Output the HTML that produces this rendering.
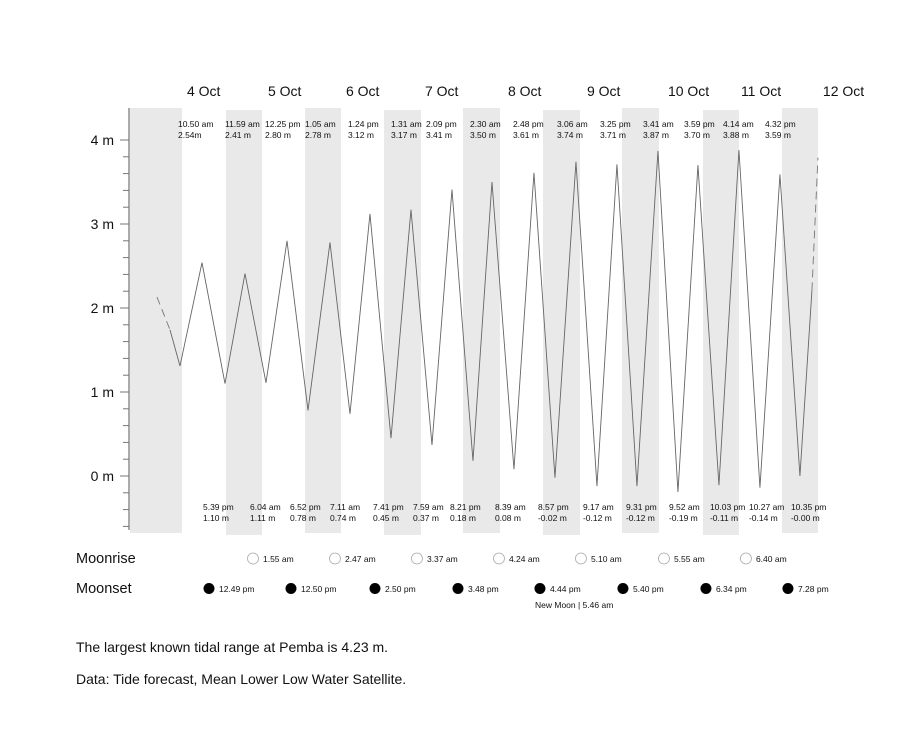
<!DOCTYPE html>
<html><head><meta charset="utf-8">
<style>
body{margin:0;background:#fff;font-family:"Liberation Sans",sans-serif;}
#wrap{position:relative;width:910px;height:737px;overflow:hidden;}
svg text{font-family:"Liberation Sans",sans-serif;fill:#111;}
</style></head>
<body>
<div id="wrap">
<svg id="chart" width="910" height="737"></svg>
</div>
<script>
// ---- data ----
const dayLabels = ["4 Oct","5 Oct","6 Oct","7 Oct","8 Oct","9 Oct","10 Oct","11 Oct","12 Oct"];
const dayLabelHours = [6.3,30.6,54.0,77.7,102.6,126.3,150.6,172.5,197.1];
const yTicks = [0,1,2,3,4];
const yTickLabels = ["0 m","1 m","2 m","3 m","4 m"];
// night bands [start hour, end hour]
const nightStart = [-10.8,18.0,41.7,65.4,89.1,113.1,136.8,161.1,184.8];
const nightEnd = [4.8,28.8,52.5,76.5,100.2,124.2,147.9,171.9,195.6];
// tide series (hours since 4 Oct 00:00, metres)
const tideHours = [1.2,4.2,10.8,17.7,23.7,30.0,36.3,42.6,49.2,55.2,61.2,67.5,73.5,79.8,85.8,92.1,97.8,104.4,110.4,116.7,123.0,129.3,135.3,141.3,147.6,153.6,159.6,165.9,171.9,178.2,184.2,190.2,193.8];
const tideHeights = [1.74,1.31,2.54,1.10,2.41,1.11,2.80,0.78,2.78,0.74,3.12,0.45,3.17,0.37,3.41,0.18,3.50,0.08,3.61,-0.02,3.74,-0.12,3.71,-0.12,3.87,-0.19,3.70,-0.11,3.88,-0.14,3.59,0.00,2.21];
const dashStartHours = [-2.7,1.2];
const dashStartHeights = [2.13,1.74];
const dashEndHours = [193.8,195.6];
const dashEndHeights = [2.21,3.79];
const highTimes = ["10.50 am","11.59 am","12.25 pm","1.05 am","1.24 pm","1.31 am","2.09 pm","2.30 am","2.48 pm","3.06 am","3.25 pm","3.41 am","3.59 pm","4.14 am","4.32 pm"];
const highValues = ["2.54m","2.41 m","2.80 m","2.78 m","3.12 m","3.17 m","3.41 m","3.50 m","3.61 m","3.74 m","3.71 m","3.87 m","3.70 m","3.88 m","3.59 m"];
const highLabelHours = [3.6,17.7,29.7,41.7,54.6,67.5,78.0,91.2,104.1,117.3,130.2,143.1,155.4,167.1,179.7];
const lowTimes = ["5.39 pm","6.04 am","6.52 pm","7.11 am","7.41 pm","7.59 am","8.21 pm","8.39 am","8.57 pm","9.17 am","9.31 pm","9.52 am","10.03 pm","10.27 am","10.35 pm"];
const lowValues = ["1.10 m","1.11 m","0.78 m","0.74 m","0.45 m","0.37 m","0.18 m","0.08 m","-0.02 m","-0.12 m","-0.12 m","-0.19 m","-0.11 m","-0.14 m","-0.00 m"];
const lowLabelHours = [11.1,25.2,37.2,49.2,62.1,74.1,85.2,98.7,111.6,125.1,138.0,150.9,163.2,174.9,187.5];
const moonriseHours = [26.1,50.7,75.3,99.9,124.5,149.4,174.0];
const moonriseTimes = ["1.55 am","2.47 am","3.37 am","4.24 am","5.10 am","5.55 am","6.40 am"];
const moonsetHours = [12.9,37.5,62.7,87.6,112.2,137.1,162.0,186.6];
const moonsetTimes = ["12.49 pm","12.50 pm","2.50 pm","3.48 pm","4.44 pm","5.40 pm","6.34 pm","7.28 pm"];

// ---- scales ----
const X0 = 166, PXH = 3.333;
const x = h => X0 + h*PXH;
const y = v => 476 - 84*v;
const svg = document.getElementById('chart');
const NS = "http://www.w3.org/2000/svg";
function mk(tag, attrs, parent){const e=document.createElementNS(NS,tag);for(const k in attrs)e.setAttribute(k,attrs[k]);(parent||svg).appendChild(e);return e;}

// bands
nightStart.forEach((s,i)=>{
  const x1=Math.max(130,x(s)), x2=Math.min(818,x(nightEnd[i]));
  const r=mk('rect',{x:x1,y:i%2?110:108,width:x2-x1,height:425,fill:'#e9e9e9'});
  
  
});
// y axis
const ax=mk('line',{x1:129,y1:108,x2:129,y2:530,stroke:'#555','stroke-width':1});


for(let v=-0.6; v<=4.01; v+=0.2){
  const major=Math.abs(v-Math.round(v))<0.01;
  const t=mk('line',{x1:major?120:123,y1:y(v),x2:129,y2:y(v),stroke:'#777','stroke-width':1});
  
  
}
yTicks.forEach((v,i)=>{
  const t=mk('text',{x:114,y:y(v)+5,'text-anchor':'end','font-size':14});
  t.textContent=yTickLabels[i];
  
  
});
dayLabels.forEach((d,i)=>{
  const t=mk('text',{x:x(dayLabelHours[i]),y:96,'font-size':14});
  t.textContent=d;
  
  
});
// tide line
const pts=tideHours.map((h,i)=>x(h)+','+y(tideHeights[i])).join(' ');
const line=mk('polyline',{points:pts,fill:'none',stroke:'#666','stroke-width':0.9});


[[dashStartHours,dashStartHeights],[dashEndHours,dashEndHeights]].forEach(([hs,vs])=>{
  const d=mk('polyline',{points:hs.map((h,i)=>x(h)+','+y(vs[i])).join(' '),fill:'none',stroke:'#777','stroke-width':0.9,'stroke-dasharray':'8,5'});
  
  
});
// tide labels
highTimes.forEach((tm,i)=>{
  const t=mk('text',{x:x(highLabelHours[i]),y:127,'font-size':8.5});
  t.textContent=tm;
  
  
  const v=mk('text',{x:x(highLabelHours[i]),y:138,'font-size':8.5});
  v.textContent=highValues[i];
  
  
});
lowTimes.forEach((tm,i)=>{
  const t=mk('text',{x:x(lowLabelHours[i]),y:510,'font-size':8.5});
  t.textContent=tm;
  
  
  const v=mk('text',{x:x(lowLabelHours[i]),y:521,'font-size':8.5});
  v.textContent=lowValues[i];
  
  
});
// moon rows
const mr=mk('text',{x:76,y:563,'font-size':14.5});mr.textContent='Moonrise';


const ms=mk('text',{x:76,y:593,'font-size':14.5});ms.textContent='Moonset';


moonriseHours.forEach((h,i)=>{
  const c=mk('circle',{cx:x(h),cy:558.5,r:5.5,fill:'#fff',stroke:'#aaa','stroke-width':0.8});
  
  
  const t=mk('text',{x:x(h)+10,y:562,'font-size':8.5});t.textContent=moonriseTimes[i];
  
  
});
moonsetHours.forEach((h,i)=>{
  const c=mk('circle',{cx:x(h),cy:588.5,r:5.5,fill:'#000'});
  
  
  const t=mk('text',{x:x(h)+10,y:592,'font-size':8.5});t.textContent=moonsetTimes[i];
  
  
});
const nm=mk('text',{x:535,y:608,'font-size':8.5});nm.textContent='New Moon | 5.46 am';


const f1=mk('text',{x:76,y:652,'font-size':14});f1.textContent='The largest known tidal range at Pemba is 4.23 m.';


const f2=mk('text',{x:76,y:684,'font-size':14});f2.textContent='Data: Tide forecast, Mean Lower Low Water Satellite.';


</script>
</body></html>
